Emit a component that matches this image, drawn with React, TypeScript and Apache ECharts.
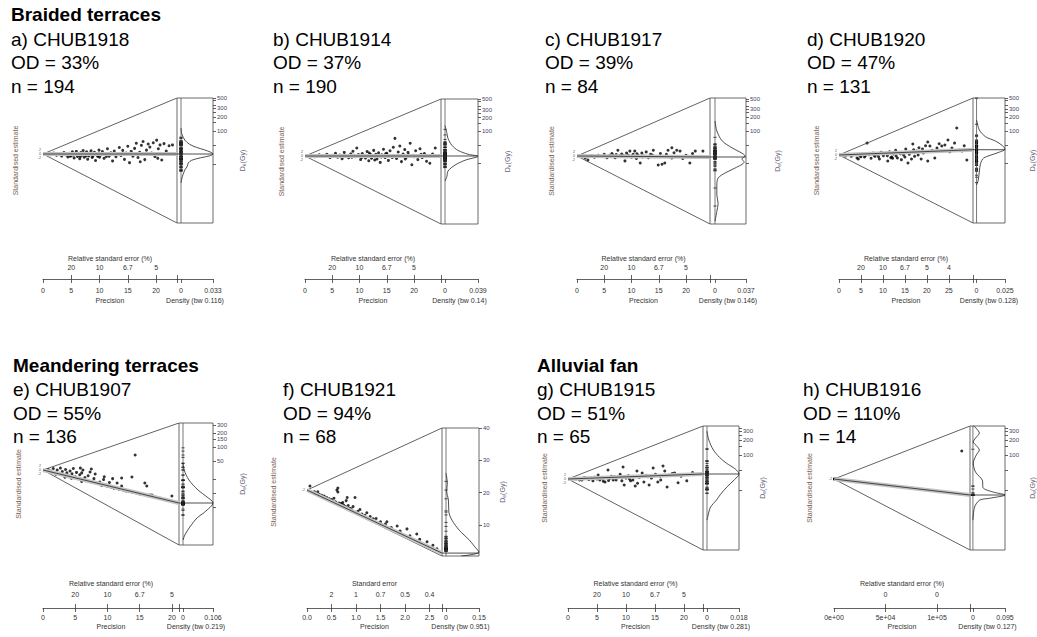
import React, { useEffect, useRef } from 'react';
import * as echarts from 'echarts';

const FONT = '"Liberation Sans", Arial, Helvetica, sans-serif';

// ---------- group titles ----------
const groupTitles = ['Braided terraces', 'Meandering terraces', 'Alluvial fan'];

// ---------- panel labels ----------
const sampleCodes = ['a) CHUB1918', 'b) CHUB1914', 'c) CHUB1917', 'd) CHUB1920', 'e) CHUB1907', 'f) CHUB1921', 'g) CHUB1915', 'h) CHUB1916'];
const odValues = ['33%', '37%', '39%', '47%', '55%', '94%', '51%', '110%'];
const nValues = [194, 190, 84, 131, 136, 68, 65, 14];
const bandwidths = ['0.116', '0.14', '0.146', '0.128', '0.219', '0.951', '0.281', '0.127'];
const densityMax = [0.033, 0.039, 0.037, 0.025, 0.106, 0.15, 0.018, 0.095];

// ---------- points: [precision, standardised estimate] ----------
const ptsA: [number, number][] = [
  [1.3, -0.8], [1.9, 1.2], [2.4, -1.5], [2.8, 0.6], [3.3, -2.4], [3.7, 1.8], [4.1, -1],
  [4.4, -3.5], [4.7, 0.8], [5.0, -2], [5.2, 2.5], [5.5, -4.5], [5.7, -0.5], [5.9, 3], [6.1, -2.8], [6.3, 0.5], [6.5, -5.5], [6.7, 1.8], [6.9, -1.5], [7.1, 4], [7.3, -3.8], [7.5, -0.2], [7.7, 2.6], [7.9, -6], [8.1, -2.2], [8.3, 1], [8.5, 3.8], [8.7, -4], [8.9, -1], [9.1, 2], [9.3, -7.5], [9.5, 0.3], [9.7, -2.8], [9.9, 4.5],
  [10.2, -1.2], [10.5, 2.8], [10.8, -5], [11.1, 0.6], [11.4, 6], [11.7, -2.5], [12.0, 1.5], [12.3, -8], [12.6, 3.5], [12.9, -3.2], [13.2, 0.2], [13.5, 7.5], [13.8, -1.8], [14.1, 4.2], [14.4, -6.2], [14.7, 1], [15.0, 9], [15.3, -10], [15.6, 3], [15.9, -2.5],
  [16.2, 6.5], [16.5, 12.5], [16.8, -4], [17.1, 2], [17.4, 10], [17.7, 14.5], [18.0, -6.5], [18.3, 4.5], [18.6, 11.5], [18.9, 8], [19.2, 1], [19.5, 13], [19.8, -3], [20.1, 16], [20.4, 6], [20.7, 10.5], [21.0, -7], [21.4, 12], [21.8, 3.5], [22.3, 9.5], [22.9, 10.5], [20.3, -5], [17.2, -9],
  [6.0, -1.2], [6.6, -3], [7.0, 0], [7.6, -2.2], [8.0, -0.8], [8.8, -2.6], [9.6, -1.4], [10.0, -3.6], [10.6, -0.5], [11.2, -2.8], [5.4, -1.2], [4.8, -2.6]
];
const ptsB: [number, number][] = [
  [1.8, -1], [2.6, 1.5], [3.3, -0.5], [4.0, 2.2], [4.6, -2], [5.1, 0.8], [5.6, 3.5], [6.0, -1.5], [6.4, 1.2], [6.8, -3.5], [7.2, 4.5], [7.6, 0], [8.0, -2.2], [8.4, 2.6], [8.8, 6], [9.2, -1], [9.5, 10], [9.8, 1.8], [10.2, -4.5], [10.5, 3.2], [10.8, 0.5], [11.1, -2.6], [11.4, 5.5], [11.7, -6], [12.0, 2], [12.3, -1.2], [12.6, 7], [12.9, 0.2], [13.2, -3.8], [13.5, 4], [13.8, -8], [14.1, 1.4], [14.4, 8.5], [14.7, -2], [15.0, 3.5], [15.3, -5.5], [15.6, 6.5], [15.9, 0], [16.2, 11], [16.5, 22], [16.8, -3], [17.1, 5], [17.4, 12.4], [17.7, -7], [18.0, 2.5], [18.3, 8], [18.6, -1.5], [18.9, 4.5], [19.3, 16], [19.6, -11], [19.9, 1], [20.3, 6.5], [20.7, -4.5], [21.1, 9], [21.5, -2], [21.9, 3], [22.3, -6.5], [22.9, -9], [23.4, 2.5], [23.9, 10],
  [7.0, -0.8], [8.6, -1.6], [9.0, 0.8], [10.0, -0.4], [11.0, 1], [12.2, -2.8], [13.0, 2.2], [14.0, -1.2], [15.2, 1], [16.0, -1.8], [17.2, 0.6], [11.8, 3.6], [6.2, 0.4], [5.3, -0.6], [10.4, -1.8], [13.6, -0.4], [14.8, 2.8], [16.6, -0.2], [18.4, -3.6], [19.0, 1.6], [20.0, -1], [21.3, 2.2], [12.8, -5]
];
const ptsC: [number, number][] = [
  [1.5, -2.4], [2, -5], [2.6, 0.5], [3.2, -1.5], [3.9, 1], [4.5, -0.5], [5.0, 2], [5.5, -2], [6.0, 0.8], [6.4, 3], [6.8, -1], [7.2, 1.8], [7.5, 7], [7.8, -0.2], [8.2, 2.5], [8.5, 0.5], [8.8, -6], [9.1, 3.5], [9.4, 1], [9.7, 6], [10.0, -1.5], [10.3, 2], [10.6, 6], [10.9, -3], [11.2, 1], [11.6, -8.5], [11.9, 3.5], [12.3, 0], [12.7, 5], [13.1, -2], [13.5, 2], [14.0, 7], [14.4, -0.5], [14.9, -11], [15.3, 3], [15.6, -10], [16.1, -8.5], [16.4, 2], [16.7, 7], [17.0, -1], [17.4, 10], [17.4, -2.4], [17.8, 4], [18.3, 7], [18.9, 6], [19.4, -3], [20.0, 1], [20.7, -8.5], [21.2, 3], [21.7, 6], [22.3, -1], [23.1, 6],
  [8.0, 0.4], [9.0, -0.8], [10.2, 0.6], [11.0, 2.6], [12.0, -1.2], [13.8, 1.2], [6.6, 1.2], [7.0, -2.2]
];
const ptsD: [number, number][] = [
  [0.9, 0], [1.5, -1.5], [2.2, 1], [2.8, -2], [3.4, 0.5], [4.1, -4.5], [4.8, -1.5], [5.3, 2], [5.8, -3], [6.4, 18], [6.8, 0.5], [7.3, -5], [7.8, 3], [8.2, -2], [8.7, 1], [9.2, -6], [9.6, 4], [10.1, -1], [10.6, 2.5], [11.1, -9], [11.5, 5], [12.0, -3], [12.4, 1.5], [12.9, 7], [13.3, -4.5], [13.8, 3], [14.2, -7], [14.7, 0], [15.2, 9], [15.7, -12], [16.2, 4], [16.8, 16.6], [17.2, -2], [17.7, 6], [18.2, 11], [18.7, -6], [19.2, 3], [19.7, 14], [20.2, 19.6], [20.2, -9], [20.7, 13.6], [21.2, 7], [21.8, -4.5], [22.3, 10.6], [22.8, 17], [23.4, 13.6], [24.1, 15], [24.8, 22.6], [25.2, 5], [25.7, 10.6], [26.3, 18], [26.8, 40.8], [27.5, 7.5], [28, 6], [28.5, 14], [29.1, -7.5],
  [8.0, -0.5], [9.0, -2.5], [10.0, 1.5], [11.0, -1], [12.2, -5], [13.0, -1.5], [14.0, 2], [15.0, -3], [16.0, 1], [17.0, 8], [18.0, 0], [19.0, 9], [6.0, -1], [7.0, 1.5], [5.0, -2.5], [4.4, -6], [11.8, -4], [16.5, -6], [23.0, 6]
];
const ptsE: [number, number][] = [
  [0.8, 0.5], [1.2, -1], [1.6, 1.5], [1.9, -2.5], [2.2, 0], [2.5, -3.5], [2.7, 2], [3.0, -1.5], [3.2, -5], [3.5, 0.5], [3.7, -3], [4.0, -6], [4.2, -1], [4.5, -4], [4.7, 1.5], [5.0, -7], [5.2, -2.5], [5.5, -9], [5.7, -5], [6.0, -3], [6.2, 0], [6.5, -8], [6.8, -11], [7.0, -6], [7.3, -2], [7.6, -12.5], [7.9, -9], [8.1, -4.2], [8.4, -14], [8.8, -12.5], [9.1, -16], [9.4, -10], [9.7, -15.5], [10.0, -17], [10.3, -13], [10.6, -18], [11.0, -19], [11.5, -13.6], [11.8, -20], [12.2, -8.4], [12.2, -16.7], [12.5, -21], [12.9, -22], [13.3, -22.5], [13.8, -7.3], [13.8, -23], [14.3, 15.7], [14.5, -24], [15.0, -25], [15.5, -25.5], [15.8, -13.6], [16.1, -16.7], [16.4, -27], [16.6, -26.1], [16.9, -26.1], [17.5, -28.5], [18.2, -29.5], [19.0, -31], [20.0, -27.2],
  [3.4, -7.5], [4.4, -8.5], [6.0, -12], [2.0, -4.5], [5.8, 2], [7.5, 1], [9.5, -7], [10.8, -9]
];
const ptsF: [number, number][] = [
  [0.06, 3.4], [0.15, -1.5], [0.22, -1.5], [0.25, -3.6], [0.3, -4.5], [0.35, -5], [0.4, -6.3], [0.45, -7.5], [0.5, -8], [0.52, -9.5], [0.55, -7], [0.58, -10], [0.61, 0], [0.63, 1.7], [0.63, -1.7], [0.65, -11], [0.68, -12], [0.7, -11.5], [0.73, -10.7], [0.75, -13], [0.78, -14], [0.8, -9], [0.82, -6.3], [0.84, -13.2], [0.87, -15.5], [0.9, -16], [0.94, -14.1], [0.98, -6.3], [1.0, -18.9], [1.04, -18], [1.08, -16.6], [1.12, -20.5], [1.18, -21.5], [1.22, -19.3], [1.29, -22.6], [1.35, -24.5], [1.41, -24.3], [1.5, -27], [1.6, -29], [1.63, -27], [1.72, -32], [1.84, -30.6], [1.9, -35], [2.04, -33.1], [2.1, -39], [2.24, -37.5], [2.3, -42], [2.45, -44], [2.57, -47], [2.65, -50], [0.92, -17.5], [0.72, -13.5], [0.6, -11]
];
const ptsG: [number, number][] = [
  [0.8, 0.5], [1.4, 0], [2.0, -1], [2.4, -1.1], [2.8, 1.5], [3.3, 1.1], [3.6, -0.5], [4.0, 1.1], [4.3, -2], [4.6, 2], [5.0, 0], [5.2, 4.3], [5.5, -1.1], [5.8, 1.5], [6.1, -2.5], [6.4, -3.2], [6.9, 9.7], [7.2, 0.5], [7.5, 3], [7.8, -1], [8.3, -1.1], [8.6, 2], [9.0, 5], [9.5, 13], [9.7, -6.5], [10.0, 1], [10.4, 3.5], [10.8, -2], [11.2, -1.1], [11.6, -7.5], [11.9, 8.6], [12.3, 2], [12.8, 6.5], [13.1, -3.2], [13.5, 4], [14.0, -6.5], [14.4, 1], [14.7, 11.9], [15.1, 5], [15.5, -3.2], [15.9, 3], [16.4, 14], [16.7, 8.6], [17.1, -8.6], [17.5, 4], [18.0, 6], [18.4, 6.5], [19.0, -4], [19.5, 3], [20.5, -2], [21.5, 7], [22.5, 5],
  [6.0, 0.8], [7.0, -1.5], [8.0, 2.5], [9.3, -2], [10.6, 0], [12.0, -4.5], [13.8, 2.5], [16.0, -1]
];
const ptsH: [number, number][] = [
  [124000, 171000], [2500, -810], [1800, -1335], [1200, -780], [900, -670], [700, -450], [600, -200],
  [1500, -1110], [400, -300], [3000, -2220], [2000, -1480], [800, -590], [1100, -510], [500, -370]
];

// ---------- KDE curves: [De (Gy), density] ----------
const kdeA: [number, number][] = [[115, 0], [85, 0.001], [64, 0.004], [52, 0.009], [45, 0.016], [40, 0.024], [36, 0.03], [32.6, 0.033], [30, 0.03], [27, 0.02], [24, 0.011], [21, 0.0075], [18, 0.0065], [15, 0.004], [11, 0.0015], [8, 0]];
const kdeB: [number, number][] = [[135, 0], [91, 0.0023], [71, 0.0035], [50, 0.0082], [39, 0.0152], [32, 0.0273], [29, 0.039], [23.8, 0.0238], [18.6, 0.0117], [13.8, 0.0035], [10.7, 0.0023], [8.4, 0]];
const kdeC: [number, number][] = [[165, 0], [100, 0.0022], [61, 0.0085], [43, 0.0204], [33, 0.0322], [28.7, 0.0359], [24.7, 0.0322], [21.2, 0.0348], [15.7, 0.024], [12.2, 0.0118], [9.5, 0.0037], [6.7, 0.0022], [4.1, 0.0022], [2.7, 0.0037], [1.8, 0.0022], [1.1, 0]];
const kdeD: [number, number][] = [[172, 0], [105, 0.0025], [75, 0.008], [61, 0.0165], [48, 0.023], [41, 0.025], [33.7, 0.018], [26.3, 0.0063], [20, 0.0035], [13.8, 0.0025], [8.8, 0.0015], [6.9, 0]];
const kdeE: [number, number][] = [[45, 0], [32, 0.004], [19.5, 0.021], [11.9, 0.053], [8.4, 0.085], [6.3, 0.106], [4.0, 0.077], [3.0, 0.05], [1.9, 0.024], [1.3, 0.007], [1.0, 0]];
const kdeF: [number, number][] = [[26, 0], [23, 0.006], [20.5, 0.003], [17.7, 0.011], [14, 0.013], [11.5, 0.027], [8.4, 0.06], [5.4, 0.105], [3.5, 0.128], [1.6, 0.15], [0.4, 0.07]];
const kdeG: [number, number][] = [[300, 0], [200, 0.001], [126, 0.0036], [90, 0.007], [69, 0.0108], [52, 0.016], [41.5, 0.018], [32, 0.0155], [22.8, 0.0112], [16, 0.0075], [12.5, 0.0054], [9, 0.002], [6.8, 0.0009], [4.9, 0]];
const kdeH: [number, number][] = [[400, 0], [330, 0.012], [277, 0.019], [220, 0.008], [183, 0.001], [150, 0.012], [126, 0.019], [100, 0.01], [69, 0.001], [45, 0.008], [31, 0.028], [22, 0.03], [18, 0.06], [15.7, 0.095], [13.5, 0.05], [12.4, 0.02], [9, 0.005], [4.9, 0]];

// ---------- axis tick values ----------
const precTicks20 = [0, 5, 10, 15, 20];
const precTicks25 = [0, 5, 10, 15, 20, 25];
const precTicksF = [0, 0.5, 1, 1.5, 2, 2.5];
const precTicksH = [0, 50000, 100000];
const deLabelsTop = [500, 400, 300, 200, 100];
const deTicksTop = [500, 450, 400, 350, 300, 250, 200, 150, 100, 50, 20];
const deLabelsE = [300, 250, 200, 150, 100, 50];
const deTicksE = [300, 250, 200, 150, 100, 50, 20, 10, 5];
const deLabelsF = [10, 20, 30, 40];
const deLabelsGH = [400, 300, 200, 100];
const deTicksGH = [400, 350, 300, 250, 200, 150, 100, 50, 20];
// tiny standardised-estimate tick labels at the origin (2, 0, -2 stacked)
const stdLabelStack = '2\n0\n-2';
const stdLabelSingle = '-2';

// scale parameters (log-dose levels)
const zTopVals = [6.215, 6.23, 6.255, 6.239, 5.793, 40.0, 5.948, 5.948];
const zBotVals = [0.117, -0.02, -0.045, 0.051, -0.246, 0.4, 0.207, 0.207];
const z0Vals = [3.483, 3.38, 3.355, 3.417, 3.466, 20.8, 3.494, 3.494];
const zcVals = [3.483, 3.38, 3.305, 3.679, 1.833, 1.3, 3.725, 2.753];
const xMaxVals = [23.7, 24.95, 24.4, 30.5, 21.1, 2.755, 23.3, 132000];

// ---------- layout (pixels) ----------
type Layout = { ox: number; rx: number; ty: number; by: number; ix: number; bx: number; ay: number; tx: number; row: number; seGap: number; deGap: number };
const layouts: Layout[] = [
  { ox: 43, rx: 177, ty: 98, by: 223, ix: 181, bx: 213, ay: 279, tx: 11, row: 0, seGap: 24, deGap: 26 },
  { ox: 305, rx: 441, ty: 99, by: 224, ix: 445, bx: 478, ay: 279, tx: 273, row: 0, seGap: 20, deGap: 26 },
  { ox: 577, rx: 710, ty: 98, by: 224, ix: 715, bx: 746, ay: 279, tx: 545, row: 0, seGap: 22, deGap: 28 },
  { ox: 839, rx: 973, ty: 98, by: 223, ix: 977, bx: 1009, ay: 279, tx: 807, row: 0, seGap: 19, deGap: 24 },
  { ox: 43, rx: 179, ty: 423, by: 545, ix: 183, bx: 213, ay: 608, tx: 13, row: 1, seGap: 21, deGap: 26 },
  { ox: 307, rx: 442, ty: 428, by: 556, ix: 446, bx: 479, ay: 608, tx: 283, row: 1, seGap: 30, deGap: 20 },
  { ox: 568, rx: 703, ty: 426, by: 550, ix: 707, bx: 739, ay: 608, tx: 537, row: 1, seGap: 20, deGap: 20 },
  { ox: 834, rx: 970, ty: 426, by: 550, ix: 973, bx: 1006, ay: 608, tx: 803, row: 1, seGap: 21, deGap: 24 }
];

const allPts = [ptsA, ptsB, ptsC, ptsD, ptsE, ptsF, ptsG, ptsH];
const allKde = [kdeA, kdeB, kdeC, kdeD, kdeE, kdeF, kdeG, kdeH];
const allPrecTicks = [precTicks20, precTicks20, precTicks20, precTicks25, precTicks20, precTicksF, precTicks20, precTicksH];
const allDeLabels = [deLabelsTop, deLabelsTop, deLabelsTop, deLabelsTop, deLabelsE, deLabelsF, deLabelsGH, deLabelsGH];
const allDeTicks = [deTicksTop, deTicksTop, deTicksTop, deTicksTop, deTicksE, deLabelsF, deTicksGH, deTicksGH];
const isLog = [true, true, true, true, true, false, true, true];

const fmtRse = (v: number) => {
  const r = 100 / v;
  if (r < 1) return String(Math.round(r));
  return Number.isInteger(r) ? String(r) : r.toFixed(1);
};
const fmtSe = (v: number) => {
  const r = 1 / v;
  return Number.isInteger(r) ? String(r) : r.toFixed(1);
};
const fmtSci = (v: number) => v.toExponential(0).replace(/e([+-])(\d)$/, 'e$10$2');

function buildOption() {
  const grid: any[] = [];
  const xAxis: any[] = [];
  const yAxis: any[] = [];
  const series: any[] = [];
  const title: any[] = [];

  const lineCol = '#3a3a3a';
  const lblCol = '#333333';
  const groupPos = [[11, 3], [13, 354], [537, 354]];
  groupTitles.forEach((t, k) => {
    title.push({ text: t, left: groupPos[k][0], top: groupPos[k][1], padding: 0, textStyle: { fontFamily: FONT, fontSize: 19, fontWeight: 'bold', color: '#000', lineHeight: 23.5 } });
  });

  layouts.forEach((L, i) => {
    const xMax = xMaxVals[i];
    const zTop = zTopVals[i], zBot = zBotVals[i], z0 = z0Vals[i], zc = zcVals[i];
    const log = isLog[i];
    const zf = (v: number) => (log ? Math.log(v) : v);
    const yTop = (zTop - z0) * xMax;
    const yBot = (zBot - z0) * xMax;
    const yC = (zc - z0) * xMax;
    const dMax = densityMax[i];
    const dMin = -dMax * (L.ix - L.rx) / (L.bx - L.ix);
    const row = L.row;

    title.push({
      text: `${sampleCodes[i]}\nOD = ${odValues[i]}\nn = ${nValues[i]}`,
      left: L.tx, top: row === 0 ? 27.25 : 377.75, padding: 0,
      textStyle: { fontFamily: FONT, fontSize: 19, fontWeight: 'normal', color: '#000', lineHeight: 23.5 }
    });

    const gR = grid.length;
    grid.push({ left: L.ox, top: L.ty, width: L.rx - L.ox, height: L.by - L.ty, show: false });
    const gK = grid.length;
    grid.push({ left: L.rx, top: L.ty, width: L.bx - L.rx, height: L.by - L.ty, show: true, borderColor: '#444', borderWidth: 0.8, backgroundColor: 'transparent' });

    const offset = L.ay - L.by;
    const lblMargin = row === 0 ? 8 : 5.5;
    const nameGapBottom = row === 0 ? 18 : 15;
    const topMargin = row === 0 ? 8.5 : 10;
    const topNameGap = row === 0 ? -24.5 : -28.5;

    const precTicks = allPrecTicks[i];
    const topTicks = precTicks.filter((v) => v > 0);
    const precFmt = i === 5 ? (v: number) => v.toFixed(1) : i === 7 ? fmtSci : (v: number) => String(v);
    const topFmt = i === 5 ? fmtSe : fmtRse;
    const small = { fontFamily: FONT, fontSize: 7, color: lblCol };
    const showAll = { showMinLabel: true, showMaxLabel: true, hideOverlap: false };
    const stackText = i === 5 || i === 7 ? stdLabelSingle : stdLabelStack;

    const xP = xAxis.length;
    xAxis.push({
      type: 'value', gridIndex: gR, min: 0, max: xMax, position: 'bottom', offset,
      axisLine: { show: true, onZero: false, lineStyle: { color: lineCol, width: 0.8 } },
      axisTick: { show: true, customValues: [...precTicks, xMax], length: 4, lineStyle: { color: lineCol, width: 0.8 } },
      axisLabel: { show: true, customValues: precTicks, formatter: precFmt, margin: lblMargin, ...small, ...showAll },
      splitLine: { show: false },
      name: 'Precision', nameLocation: 'middle', nameGap: nameGapBottom, nameMoveOverlap: false,
      nameTextStyle: { ...small }
    });
    xAxis.push({
      type: 'value', gridIndex: gR, min: 0, max: xMax, position: 'bottom', offset,
      axisLine: { show: false, onZero: false },
      axisTick: { show: true, inside: true, customValues: [...topTicks, xMax], length: 4, lineStyle: { color: lineCol, width: 0.8 } },
      axisLabel: { show: true, inside: true, customValues: topTicks, formatter: topFmt, margin: topMargin, ...small, ...showAll },
      splitLine: { show: false },
      name: i === 5 ? 'Standard error' : 'Relative standard error (%)', nameLocation: 'middle', nameGap: topNameGap, nameMoveOverlap: false,
      nameTextStyle: { ...small }
    });
    const yR = yAxis.length;
    yAxis.push({
      type: 'value', gridIndex: gR, min: yBot, max: yTop, position: 'left',
      axisLine: { show: false, onZero: false }, axisTick: { show: false }, splitLine: { show: false },
      axisLabel: {
        show: true, customValues: [0], formatter: () => stackText, margin: 2,
        fontFamily: FONT, fontSize: 3.6, lineHeight: 4, color: '#555', ...showAll
      },
      name: 'Standardised estimate', nameLocation: 'middle', nameRotate: 90, nameGap: L.seGap, nameMoveOverlap: false,
      nameTextStyle: { fontFamily: FONT, fontSize: 7, color: '#7a6150' }
    });

    const xK = xAxis.length;
    xAxis.push({
      type: 'value', gridIndex: gK, min: dMin, max: dMax, position: 'bottom', offset,
      axisLine: { show: true, onZero: false, lineStyle: { color: lineCol, width: 0.8 } },
      axisTick: { show: true, customValues: [0, dMax], length: 4, lineStyle: { color: lineCol, width: 0.8 } },
      axisLabel: { show: true, customValues: [0, dMax], formatter: (v: number) => (v === 0 ? '0' : String(dMax)), margin: lblMargin, ...small, ...showAll },
      splitLine: { show: false },
      name: `Density (bw ${bandwidths[i]})`, nameLocation: 'middle', nameGap: nameGapBottom, nameMoveOverlap: false,
      nameTextStyle: { ...small }
    });
    const yK = yAxis.length;
    yAxis.push({
      type: 'value', gridIndex: gK, min: zBot, max: zTop, position: 'right',
      axisLine: { show: false, onZero: false },
      axisTick: { show: true, customValues: allDeTicks[i].map(zf), length: 3, lineStyle: { color: lineCol, width: 0.8 } },
      axisLabel: { show: true, customValues: allDeLabels[i].map(zf), formatter: (v: number) => String(Math.round(log ? Math.exp(v) : v)), margin: 4, fontFamily: FONT, fontSize: 6, color: '#3f3f60', ...showAll },
      splitLine: { show: false },
      name: '{d|D}{s|e}{d|(Gy)}', nameLocation: 'middle', nameRotate: 90, nameGap: L.deGap, nameMoveOverlap: false,
      nameTextStyle: { rich: { d: { fontFamily: FONT, fontSize: 7, color: '#66607a' }, s: { fontFamily: FONT, fontSize: 5, color: '#66607a', verticalAlign: 'bottom' } } }
    });

    const common = { symbol: 'none', silent: true, animation: false };
    series.push({ type: 'line', xAxisIndex: xP, yAxisIndex: yR, data: [[xMax, yTop], [0, 0], [xMax, yBot]], lineStyle: { color: lineCol, width: 0.8 }, ...common });
    series.push({ type: 'line', xAxisIndex: xP, yAxisIndex: yR, data: [[0, 0], [xMax, yC]], lineStyle: { color: '#c4c4c4', width: 4 }, ...common });
    series.push({ type: 'line', xAxisIndex: xP, yAxisIndex: yR, data: [[0, 0], [xMax, yC]], lineStyle: { color: '#222', width: 0.8 }, ...common });
    series.push({
      type: 'scatter', xAxisIndex: xP, yAxisIndex: yR, data: allPts[i], symbol: 'circle', symbolSize: 3,
      itemStyle: { color: '#000' }, silent: true, animation: false
    });
    // KDE box content
    series.push({ type: 'line', xAxisIndex: xK, yAxisIndex: yK, data: [[0, zBot], [0, zTop]], lineStyle: { color: '#555', width: 0.8 }, ...common });
    series.push({ type: 'line', xAxisIndex: xK, yAxisIndex: yK, data: [[dMin, zc], [dMax, zc]], lineStyle: { color: '#222', width: 0.8 }, ...common });
    series.push({
      type: 'scatter', xAxisIndex: xK, yAxisIndex: yK,
      data: allPts[i].map(([pr, s]) => [0, z0 + s / pr]),
      symbol: 'rect', symbolSize: [3, 1], itemStyle: { color: '#000' }, silent: true, animation: false
    });
    series.push({
      type: 'line', xAxisIndex: xK, yAxisIndex: yK,
      data: allKde[i].map(([de, d]) => [d, zf(de)]),
      smooth: 0.3, lineStyle: { color: '#222', width: 0.8 }, ...common
    });
  });

  return {
    animation: false,
    backgroundColor: '#ffffff',
    textStyle: { fontFamily: FONT },
    title,
    grid,
    xAxis,
    yAxis,
    series
  };
}

export default function App() {
  const ref = useRef<HTMLDivElement>(null);
  useEffect(() => {
    if (!ref.current) return;
    const chart = echarts.init(ref.current, undefined, { renderer: 'svg' });
    chart.setOption(buildOption() as any);
    return () => chart.dispose();
  }, []);
  return (
    <div
      ref={ref}
      style={{ position: 'fixed', left: 0, top: 0, width: 1037, height: 637, background: '#fff' }}
    />
  );
}
